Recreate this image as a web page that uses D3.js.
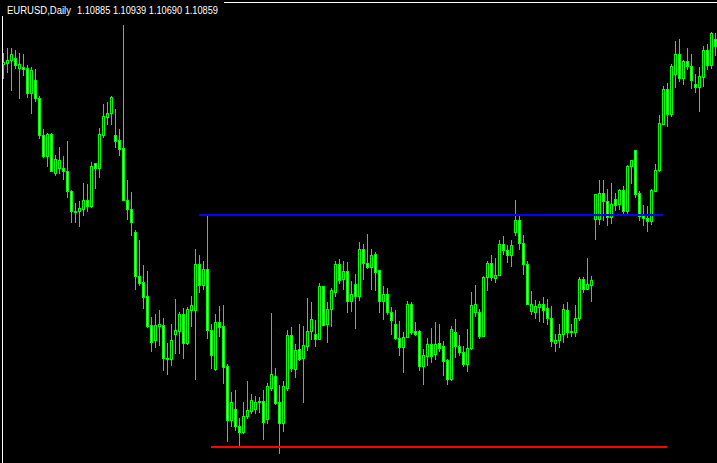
<!DOCTYPE html>
<html>
<head>
<meta charset="utf-8">
<script src="https://cdn.jsdelivr.net/npm/d3@7/dist/d3.min.js"></script>
<style>
html,body{margin:0;padding:0;background:#000;overflow:hidden;}
svg{display:block;}
</style>
</head>
<body>
<div id="chart"></div>
<script>
// ---- data (daily EURUSD candles) ----
const symbolLabel = "EURUSD,Daily";
const quoteValues = ["1.10885", "1.10939", "1.10690", "1.10859"];

const opens = [
1.1073,1.1075,1.1079,1.1085,1.1065,1.1066,1.1065,1.1015,1.1041,1.1005,
1.0931,1.0888,1.0932,1.0855,1.0864,1.0865,1.0859,1.0819,1.0779,1.0777,
1.0783,1.0801,1.0789,1.0875,1.0865,1.0931,1.0967,1.0975,1.0930,1.0920,
1.0905,1.0801,1.0783,1.0736,1.0649,1.0636,1.0608,1.0550,1.0520,1.0548,
1.0550,1.0485,1.0483,1.0533,1.0539,1.0572,1.0515,1.0581,1.0581,1.0673,
1.0631,1.0663,1.0540,1.0463,1.0557,1.0548,1.0468,1.0361,1.0383,1.0349,
1.0337,1.0369,1.0379,1.0383,1.0396,1.0398,1.0362,1.0425,1.0448,1.0396,
1.0353,1.0425,1.0531,1.0463,1.0503,1.0485,1.0509,1.0538,1.0532,1.0523,
1.0628,1.0552,1.0583,1.0617,1.0673,1.0642,1.0658,1.0599,1.0632,1.0609,
1.0703,1.0675,1.0667,1.0693,1.0660,1.0599,1.0613,1.0575,1.0552,1.0525,
1.0507,1.0527,1.0592,1.0538,1.0538,1.0469,1.0489,1.0512,1.0493,1.0515,
1.0508,1.0480,1.0442,1.0535,1.0509,1.0497,1.0473,1.0505,1.0575,1.0575,
1.0529,1.0647,1.0675,1.0645,1.0651,1.0713,1.0701,1.0690,1.0737,1.0761,
1.0715,1.0673,1.0579,1.0577,1.0587,1.0592,1.0584,1.0565,1.0515,1.0521,
1.0532,1.0581,1.0538,1.0537,1.0565,1.0643,1.0623,1.0631,1.0763,1.0763,
1.0815,1.0797,1.0767,1.0803,1.0793,1.0820,1.0779,1.0869,1.0900,1.0815,
1.0770,1.0765,1.0759,1.0819,1.0861,1.0953,1.1023,1.0972,1.1053,1.1093,
1.1045,1.1078,1.1069,1.1033,1.1027,1.1047,1.1100,1.1071,1.1123];
const highs = [
1.1095,1.1105,1.1105,1.1100,1.1095,1.1092,1.1071,1.1067,1.1063,1.1009,
1.0943,1.0935,1.0935,1.0890,1.0907,1.0888,1.0918,1.0820,1.0795,1.0797,
1.0835,1.0832,1.0877,1.0875,1.0945,1.0992,1.0997,1.1009,1.0982,1.0943,
1.1150,1.0841,1.0816,1.0741,1.0720,1.0670,1.0658,1.0567,1.0572,1.0580,
1.0565,1.0515,1.0552,1.0603,1.0575,1.0585,1.0587,1.0608,1.0702,1.0691,
1.0678,1.0768,1.0553,1.0573,1.0588,1.0590,1.0473,1.0417,1.0420,1.0365,
1.0397,1.0438,1.0412,1.0409,1.0407,1.0420,1.0435,1.0574,1.0464,1.0430,
1.0439,1.0541,1.0547,1.0512,1.0552,1.0548,1.0605,1.0595,1.0560,1.0634,
1.0629,1.0597,1.0625,1.0679,1.0683,1.0678,1.0677,1.0638,1.0652,1.0717,
1.0712,1.0732,1.0703,1.0697,1.0660,1.0628,1.0625,1.0587,1.0580,1.0559,
1.0536,1.0598,1.0596,1.0556,1.0541,1.0503,1.0525,1.0545,1.0555,1.0553,
1.0518,1.0483,1.0548,1.0563,1.0530,1.0508,1.0542,1.0615,1.0630,1.0583,
1.0648,1.0679,1.0690,1.0685,1.0721,1.0728,1.0710,1.0721,1.0800,1.0770,
1.0730,1.0678,1.0618,1.0600,1.0598,1.0607,1.0602,1.0588,1.0533,1.0553,
1.0593,1.0595,1.0553,1.0590,1.0647,1.0647,1.0685,1.0648,1.0813,1.0840,
1.0840,1.0823,1.0835,1.0815,1.0823,1.0828,1.0871,1.0881,1.0901,1.0817,
1.0791,1.0788,1.0823,1.0873,1.0970,1.1028,1.1035,1.1072,1.1118,1.1122,
1.1080,1.1105,1.1092,1.1052,1.1067,1.1108,1.1112,1.1137,1.1135];
const lows = [
1.1045,1.1057,1.1019,1.1065,1.1005,1.1050,1.1007,1.0975,1.0999,1.0925,
1.0887,1.0869,1.0857,1.0850,1.0855,1.0842,1.0807,1.0757,1.0757,1.0749,
1.0770,1.0777,1.0787,1.0825,1.0847,1.0927,1.0953,1.0953,1.0907,1.0890,
1.0800,1.0762,1.0730,1.0623,1.0630,1.0585,1.0547,1.0499,1.0507,1.0510,
1.0460,1.0453,1.0470,1.0495,1.0495,1.0485,1.0513,1.0548,1.0443,1.0615,
1.0623,1.0525,1.0465,1.0460,1.0528,1.0435,1.0319,1.0348,1.0341,1.0308,
1.0333,1.0365,1.0373,1.0373,1.0376,1.0323,1.0355,1.0420,1.0393,1.0295,
1.0339,1.0421,1.0459,1.0447,1.0481,1.0397,1.0501,1.0523,1.0509,1.0523,
1.0551,1.0517,1.0548,1.0608,1.0635,1.0623,1.0577,1.0578,1.0545,1.0600,
1.0642,1.0665,1.0623,1.0620,1.0576,1.0562,1.0572,1.0532,1.0523,1.0490,
1.0457,1.0527,1.0533,1.0531,1.0460,1.0433,1.0470,1.0477,1.0482,1.0499,
1.0450,1.0432,1.0440,1.0487,1.0490,1.0469,1.0459,1.0503,1.0569,1.0525,
1.0529,1.0620,1.0640,1.0637,1.0650,1.0693,1.0677,1.0669,1.0731,1.0703,
1.0652,1.0592,1.0573,1.0565,1.0559,1.0557,1.0553,1.0509,1.0499,1.0507,
1.0517,1.0527,1.0528,1.0528,1.0560,1.0615,1.0622,1.0599,1.0723,1.0752,
1.0760,1.0750,1.0755,1.0781,1.0783,1.0775,1.0772,1.0835,1.0807,1.0760,
1.0750,1.0739,1.0753,1.0817,1.0859,1.0952,1.0948,1.0969,1.1027,1.1038,
1.1033,1.1063,1.1025,1.1017,1.0979,1.1029,1.1062,1.1065,1.1090];
const closes = [
1.1077,1.1080,1.1093,1.1071,1.1073,1.1063,1.1015,1.1061,1.1005,1.0930,
1.0888,1.0932,1.0857,1.0882,1.0881,1.0859,1.0819,1.0777,1.0776,1.0784,
1.0801,1.0789,1.0869,1.0865,1.0932,1.0968,1.0975,1.1006,1.0919,1.0903,
1.0800,1.0783,1.0757,1.0649,1.0635,1.0607,1.0548,1.0517,1.0551,1.0552,
1.0485,1.0482,1.0520,1.0540,1.0572,1.0515,1.0582,1.0591,1.0673,1.0631,
1.0663,1.0540,1.0490,1.0557,1.0547,1.0467,1.0361,1.0396,1.0348,1.0337,
1.0369,1.0380,1.0400,1.0396,1.0399,1.0357,1.0428,1.0453,1.0395,1.0353,
1.0428,1.0531,1.0465,1.0501,1.0483,1.0510,1.0538,1.0562,1.0523,1.0628,
1.0551,1.0583,1.0620,1.0673,1.0640,1.0658,1.0599,1.0613,1.0609,1.0703,
1.0675,1.0667,1.0691,1.0657,1.0599,1.0613,1.0575,1.0560,1.0525,1.0507,
1.0527,1.0592,1.0537,1.0533,1.0469,1.0490,1.0512,1.0489,1.0513,1.0505,
1.0479,1.0442,1.0543,1.0509,1.0497,1.0472,1.0505,1.0590,1.0593,1.0529,
1.0647,1.0675,1.0647,1.0651,1.0713,1.0701,1.0690,1.0710,1.0761,1.0715,
1.0673,1.0593,1.0593,1.0588,1.0592,1.0580,1.0565,1.0519,1.0521,1.0532,
1.0583,1.0537,1.0535,1.0565,1.0643,1.0623,1.0632,1.0640,1.0812,1.0815,
1.0797,1.0767,1.0793,1.0790,1.0820,1.0779,1.0869,1.0881,1.0813,1.0768,
1.0765,1.0759,1.0821,1.0861,1.0955,1.1023,1.0972,1.1068,1.1093,1.1045,
1.1078,1.1069,1.1041,1.1027,1.1048,1.1100,1.1071,1.1135,1.1109];

// horizontal levels: [price, first bar, last bar]
const neckline = {price: 1.0770, from: 49, to: 165};
const support  = {price: 1.0306, from: 52, to: 166};

// ---- drawing ----
const W = 717, H = 463;
const n = opens.length;
const svg = d3.select("#chart").append("svg")
  .attr("width", W).attr("height", H)
  .attr("shape-rendering", "crispEdges");
svg.append("rect").attr("width", W).attr("height", H).attr("fill", "#000");

const x = d3.scaleLinear().domain([0, n - 1]).range([3, 715]);
const y = d3.scaleLinear().domain([1.0274, 1.1200]).range([463, 0]);

const bars = d3.range(n).map(i => ({i, o: opens[i], h: highs[i], l: lows[i], c: closes[i]}));
const LIME = "#00ff00";

const g = svg.append("g");
// wicks
g.selectAll("rect.wick").data(bars).join("rect").attr("class", "wick")
  .attr("x", d => Math.round(x(d.i)))
  .attr("y", d => Math.round(y(d.h)))
  .attr("width", 1)
  .attr("height", d => Math.round(y(d.l)) - Math.round(y(d.h)) + 1)
  .attr("fill", LIME);
// body outlines
g.selectAll("rect.body").data(bars).join("rect").attr("class", "body")
  .attr("x", d => Math.round(x(d.i)) - 1)
  .attr("y", d => Math.round(y(Math.max(d.o, d.c))))
  .attr("width", 3)
  .attr("height", d => Math.round(y(Math.min(d.o, d.c))) - Math.round(y(Math.max(d.o, d.c))) + 1)
  .attr("fill", LIME);
// body interiors: bull = black, bear = white
g.selectAll("rect.inner").data(bars.filter(d => Math.round(y(Math.min(d.o, d.c))) - Math.round(y(Math.max(d.o, d.c))) >= 2))
  .join("rect").attr("class", "inner")
  .attr("x", d => Math.round(x(d.i)))
  .attr("y", d => Math.round(y(Math.max(d.o, d.c))) + 1)
  .attr("width", 1)
  .attr("height", d => Math.round(y(Math.min(d.o, d.c))) - Math.round(y(Math.max(d.o, d.c))) - 1)
  .attr("fill", d => d.c >= d.o ? "#000" : "#ffffff");

// level lines
[[neckline, "#0000ff"], [support, "#ff0000"]].forEach(([lv, col]) => {
  svg.append("rect")
    .attr("x", Math.round(x(lv.from)))
    .attr("y", Math.round(y(lv.price)) - 1)
    .attr("width", Math.round(x(lv.to)) - Math.round(x(lv.from)))
    .attr("height", 2)
    .attr("fill", col);
});

// frame
svg.append("rect").attr("x", 2).attr("y", 2).attr("width", W - 2).attr("height", 1).attr("fill", "#fff");
svg.append("rect").attr("x", 2).attr("y", 2).attr("width", 1).attr("height", H - 2).attr("fill", "#fff");

// title area
svg.append("rect").attr("x", 0).attr("y", 0).attr("width", 224).attr("height", 16).attr("fill", "#000");
svg.append("text").attr("x", 7).attr("y", 14)
  .attr("font-family", "'Liberation Sans', Arial, sans-serif").attr("font-size", 10)
  .attr("fill", "#fff").attr("textLength", 64).attr("lengthAdjust", "spacingAndGlyphs")
  .text(symbolLabel);
svg.append("text").attr("x", 77).attr("y", 14)
  .attr("font-family", "'Liberation Sans', Arial, sans-serif").attr("font-size", 10)
  .attr("fill", "#fff").attr("textLength", 141).attr("lengthAdjust", "spacingAndGlyphs")
  .text(quoteValues.join(" "));
</script>
</body>
</html>
